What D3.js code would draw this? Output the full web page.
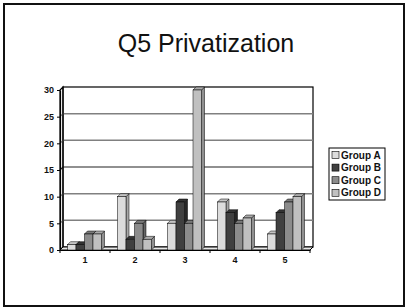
<!DOCTYPE html>
<html>
<head>
<meta charset="utf-8">
<script src="https://cdn.jsdelivr.net/npm/d3@7"></script>
<style>
  body { margin: 0; background: #fff; }
  svg { display: block; font-family: "Liberation Sans", Arial, sans-serif; }
</style>
</head>
<body>
<div class="canvas"></div>
<script>
// data
const categories = ['1', '2', '3', '4', '5'];
const groups = ['Group A', 'Group B', 'Group C', 'Group D'];
const groupA = [1, 10, 5, 9, 3];
const groupB = [1, 2, 9, 7, 7];
const groupC = [3, 5, 5, 5, 9];
const groupD = [3, 2, 30, 6, 10];
const yTicks = [0, 5, 10, 15, 20, 25, 30];

const seriesValues = [groupA, groupB, groupC, groupD];

// colours per series: front, top, side
const colors = [
    { front: '#dcdcdc', top: '#c4c4c4', side: '#a8a8a8' },
    { front: '#404040', top: '#333333', side: '#262626' },
    { front: '#8c8c8c', top: '#7a7a7a', side: '#666666' },
    { front: '#c0c0c0', top: '#aaaaaa', side: '#909090' }
];

const svg = d3.select('.canvas')
    .append('svg')
    .attr('width', 406)
    .attr('height', 308);

// slide border
svg.append('rect')
    .attr('x', 4).attr('y', 4)
    .attr('width', 400).attr('height', 302)
    .attr('fill', 'none')
    .attr('stroke', '#111')
    .attr('stroke-width', 2);

// title
svg.append('text')
    .attr('x', 206).attr('y', 52)
    .attr('text-anchor', 'middle')
    .attr('font-size', 25)
    .attr('fill', '#111')
    .text('Q5 Privatization');

// plot geometry
const plotLeft = 60, plotRight = 310, zeroY = 250, plotTop = 90;
const depth = 3;

const x = d3.scaleBand()
    .domain(categories)
    .range([plotLeft, plotRight]);

const xInner = d3.scaleBand()
    .domain(groups)
    .range([7.5, 41.5]);

const y = d3.scaleLinear()
    .domain([0, 30])
    .range([zeroY, plotTop]);

const graph = svg.append('g');

// back wall
graph.append('rect')
    .attr('x', plotLeft + depth).attr('y', y(30) - depth)
    .attr('width', plotRight - plotLeft).attr('height', zeroY - y(30))
    .attr('fill', '#fff')
    .attr('stroke', '#000')
    .attr('stroke-width', 1.2);

// gridlines on back wall and left wall
yTicks.filter(d => d > 0 && d < 30).forEach(d => {
    const c = d === 15 ? '#222' : '#808080';
    graph.append('line')
        .attr('x1', plotLeft + depth).attr('x2', plotRight + depth)
        .attr('y1', y(d) - depth).attr('y2', y(d) - depth)
        .attr('stroke', c).attr('stroke-width', d === 15 ? 1.1 : 1.5);
    graph.append('line')
        .attr('x1', plotLeft).attr('x2', plotLeft + depth)
        .attr('y1', y(d)).attr('y2', y(d) - depth)
        .attr('stroke', c).attr('stroke-width', 1.1);
});

// left wall
graph.append('path')
    .attr('d', `M${plotLeft},${zeroY} L${plotLeft},${y(30)} L${plotLeft + depth},${y(30) - depth} L${plotLeft + depth},${zeroY - depth} Z`)
    .attr('fill', 'none')
    .attr('stroke', '#000')
    .attr('stroke-width', 1.2);

// floor
graph.append('path')
    .attr('d', `M${plotLeft},${zeroY} L${plotRight},${zeroY} L${plotRight + depth},${zeroY - depth} L${plotLeft + depth},${zeroY - depth} Z`)
    .attr('fill', '#e8e8e8')
    .attr('stroke', '#000')
    .attr('stroke-width', 1);

// bars
const bars = [];
categories.forEach((cat, i) => {
    groups.forEach((g, j) => {
        bars.push({ cat, group: g, j, value: seriesValues[j][i] });
    });
});

const barW = xInner.bandwidth();
const barG = graph.selectAll('g.bar')
    .data(bars)
    .enter()
    .append('g')
    .attr('class', 'bar');

barG.each(function (d) {
    const g = d3.select(this);
    const x0 = x(d.cat) + xInner(d.group);
    const x1 = x0 + barW;
    const yt = y(d.value);
    const col = colors[d.j];
    // side
    g.append('path')
        .attr('d', `M${x1},${zeroY} L${x1},${yt} L${x1 + depth},${yt - depth} L${x1 + depth},${zeroY - depth} Z`)
        .attr('fill', col.side).attr('stroke', '#000').attr('stroke-width', 0.5);
    // top
    g.append('path')
        .attr('d', `M${x0},${yt} L${x1},${yt} L${x1 + depth},${yt - depth} L${x0 + depth},${yt - depth} Z`)
        .attr('fill', col.top).attr('stroke', '#000').attr('stroke-width', 0.5);
    // front
    g.append('rect')
        .attr('x', x0).attr('y', yt)
        .attr('width', barW).attr('height', zeroY - yt)
        .attr('fill', col.front).attr('stroke', '#000').attr('stroke-width', 0.5);
});

// axes
const yAxis = d3.axisLeft(y)
    .tickValues(yTicks)
    .tickSize(3)
    .tickSizeOuter(0);

const yAxisGroup = svg.append('g')
    .attr('transform', `translate(${plotLeft},0)`)
    .call(yAxis);
yAxisGroup.select('.domain').attr('stroke', '#000').attr('stroke-width', 1.2);
yAxisGroup.selectAll('text')
    .attr('font-family', '"Liberation Sans", Arial, sans-serif')
    .attr('font-size', 9)
    .attr('font-weight', 'bold')
    .attr('fill', '#111');

const xAxis = d3.axisBottom(x)
    .tickSize(0)
    .tickPadding(7);

const xAxisGroup = svg.append('g')
    .attr('transform', `translate(0,${zeroY})`)
    .call(xAxis);
xAxisGroup.select('.domain').attr('stroke', '#000').attr('stroke-width', 1.2);
xAxisGroup.selectAll('text')
    .attr('font-family', '"Liberation Sans", Arial, sans-serif')
    .attr('font-size', 9)
    .attr('font-weight', 'bold')
    .attr('fill', '#111');

// category boundary ticks
xAxisGroup.selectAll('line.sep')
    .data(categories.concat(['end']))
    .enter()
    .append('line')
    .attr('class', 'sep')
    .attr('x1', (d, i) => plotLeft + i * x.step())
    .attr('x2', (d, i) => plotLeft + i * x.step())
    .attr('y1', 0).attr('y2', 3)
    .attr('stroke', '#000');

// legend
const legend = svg.append('g')
    .attr('transform', 'translate(329,148)');
legend.append('rect')
    .attr('width', 56).attr('height', 52)
    .attr('fill', '#fff')
    .attr('stroke', '#000')
    .attr('stroke-width', 1);

const items = legend.selectAll('g.item')
    .data(groups)
    .enter()
    .append('g')
    .attr('class', 'item')
    .attr('transform', (d, i) => `translate(3,${7 + i * 12.6})`);
items.append('rect')
    .attr('x', 0).attr('y', -3.5)
    .attr('width', 7).attr('height', 7)
    .attr('fill', (d, i) => colors[i].front)
    .attr('stroke', '#000').attr('stroke-width', 0.6);
items.append('text')
    .attr('x', 9).attr('y', 3.6)
    .attr('font-size', 10)
    .attr('font-weight', 'bold')
    .attr('fill', '#111')
    .text(d => d);
</script>
</body>
</html>
